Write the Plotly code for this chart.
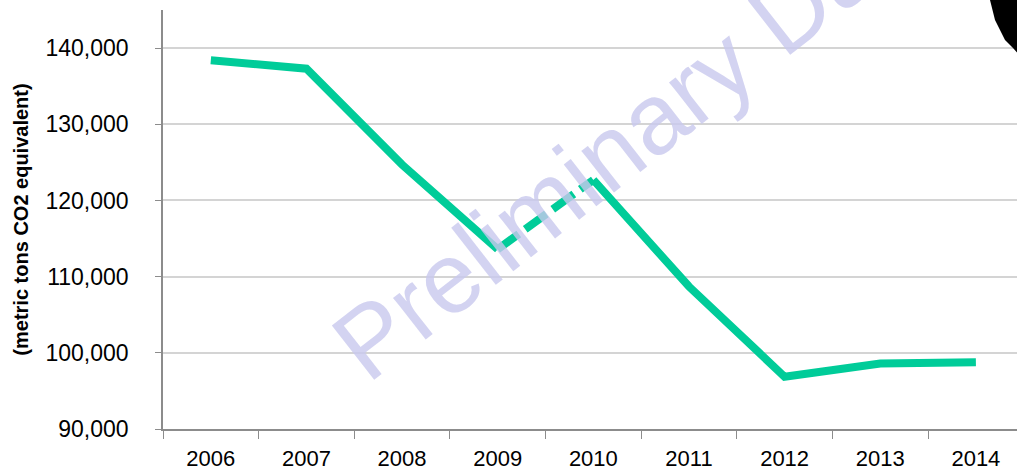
import plotly.graph_objects as go

years = ["2006", "2007", "2008", "2009", "2010", "2011", "2012", "2013", "2014"]
emissions = [138400, 137300, 124700, 113600, 122700, 108700, 96850, 98600, 98750]
y_ticks = [90000, 100000, 110000, 120000, 130000, 140000]
y_title = "(metric tons CO2 equivalent)"
watermark = "Preliminary Data"

GREEN = "#00CC99"
W, H = 1017, 474
ML, MR, MT, MB = 163, 0, 10, 45
PW, PH = W - ML - MR, H - MT - MB


def px(x):
    return (x - ML) / PW


def py(y):
    return (H - MB - y) / PH


fig = go.Figure()
# solid part before 2009, dashed 2009-2010, solid after 2010
fig.add_trace(go.Scatter(x=years[:4], y=emissions[:4], mode="lines",
                         line=dict(color=GREEN, width=8), showlegend=False))
fig.add_trace(go.Scatter(x=years[3:5], y=emissions[3:5], mode="lines",
                         line=dict(color=GREEN, width=8, dash="26px,8px"), showlegend=False))
fig.add_trace(go.Scatter(x=years[4:], y=emissions[4:], mode="lines",
                         line=dict(color=GREEN, width=8), showlegend=False))

edge = [(989, -3), (990, 0), (995, 20), (1005, 40), (1013, 48), (1022, 58)]
path = "M " + " L ".join(f"{px(a)} {py(b)}" for a, b in edge)
path += f" L {px(1030)} {py(58)} L {px(1030)} {py(-3)} Z"

fig.update_layout(
    width=W, height=H,
    margin=dict(l=ML, r=MR, t=MT, b=MB),
    paper_bgcolor="white", plot_bgcolor="white",
    xaxis=dict(type="category", range=[-0.5, 8.43], showgrid=False,
               showline=True, linecolor="#8c8c8c", linewidth=1.5,
               ticks="outside", tickson="boundaries", ticklen=8, tickcolor="#8c8c8c",
               ticklabelstandoff=9, automargin=False,
               tickfont=dict(family="Liberation Sans", size=22, color="black")),
    yaxis=dict(range=[90000, 145000], tickvals=y_ticks, tickformat=",",
               showgrid=True, gridcolor="#d4d4d4", gridwidth=1.5,
               showline=True, linecolor="#8c8c8c", linewidth=1.5,
               ticks="outside", ticklen=6, tickcolor="#8c8c8c",
               ticklabelstandoff=22,
               tickfont=dict(family="Liberation Sans", size=23, color="black"),
               title=dict(text="<b>" + y_title + "</b>", standoff=12,
                          font=dict(family="Liberation Sans", size=20, color="black")),
               zeroline=False, automargin=False),
    annotations=[dict(text=watermark, xref="paper", yref="paper",
                      x=px(637), y=py(130), xanchor="center", yanchor="middle",
                      showarrow=False, textangle=-38,
                      font=dict(family="Liberation Sans", size=100, color="rgba(200,200,238,0.8)"))],
    shapes=[dict(type="path", xref="paper", yref="paper", layer="above",
                 path=path, fillcolor="black", line=dict(width=0))],
)

fig.write_html("out.html", config={"displayModeBar": False},
               post_script="document.body.style.margin='0';document.body.style.overflow='hidden';")
